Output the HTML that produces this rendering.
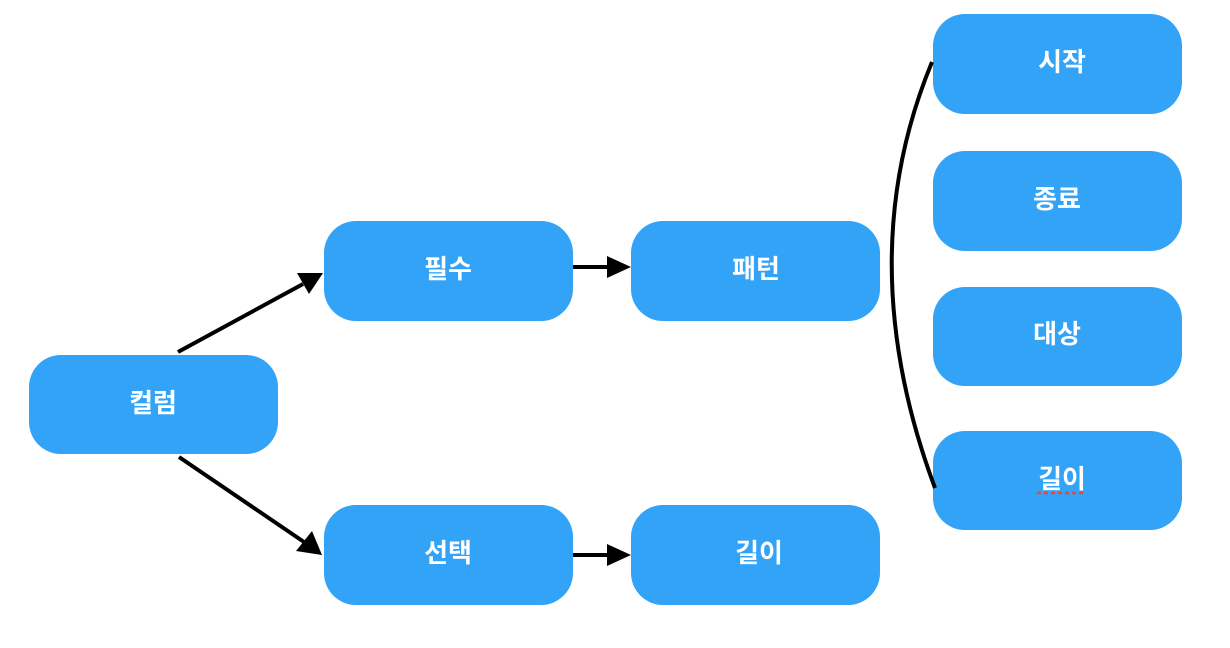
<!DOCTYPE html>
<html><head><meta charset="utf-8"><style>
html,body{margin:0;padding:0;background:#fff;width:1230px;height:648px;overflow:hidden}
text{font-family:"Liberation Sans","Noto Sans CJK KR","NanumGothic",sans-serif;font-size:26px;font-weight:bold;fill:#fff;text-anchor:middle;dominant-baseline:central}
</style></head><body>
<svg width="1230" height="648" viewBox="0 0 1230 648" xmlns="http://www.w3.org/2000/svg">
<g fill="#33a3f8">
<rect x="29" y="355" width="249" height="99" rx="32"/>
<rect x="324" y="221" width="249" height="100" rx="32"/>
<rect x="631" y="221" width="249" height="100" rx="32"/>
<rect x="324" y="505" width="249" height="100" rx="32"/>
<rect x="631" y="505" width="249" height="100" rx="32"/>
<rect x="933" y="14" width="249" height="100" rx="32"/>
<rect x="933" y="151" width="249" height="100" rx="32"/>
<rect x="933" y="287" width="249" height="99" rx="32"/>
<rect x="933" y="431" width="249" height="99" rx="32"/>
</g>
<text x="153" y="403">컬럼</text>
<text x="448" y="269">필수</text>
<text x="756" y="269">패턴</text>
<text x="448" y="553">선택</text>
<text x="759" y="553">길이</text>
<text x="1062" y="62">시작</text>
<text x="1057" y="199">종료</text>
<text x="1057" y="334">대상</text>
<text x="1062" y="479">길이</text>
<line x1="1037" y1="493" x2="1085" y2="493" stroke="#e8453c" stroke-width="2.5" stroke-dasharray="4,3"/>
<g stroke="#000" stroke-width="4" fill="none">
<line x1="178" y1="352" x2="303" y2="284"/>
<line x1="179" y1="457" x2="304" y2="542"/>
<line x1="573" y1="267" x2="610" y2="267"/>
<line x1="573" y1="555" x2="610" y2="555"/>
<path d="M932 62 Q850 260 935 488"/>
</g>
<g fill="#000">
<polygon points="323,273 297,273 309,294"/>
<polygon points="322,555 296,551 312,531"/>
<polygon points="631,267 607,256 607,278"/>
<polygon points="631,555 607,544 607,566"/>
</g>
</svg>
</body></html>
